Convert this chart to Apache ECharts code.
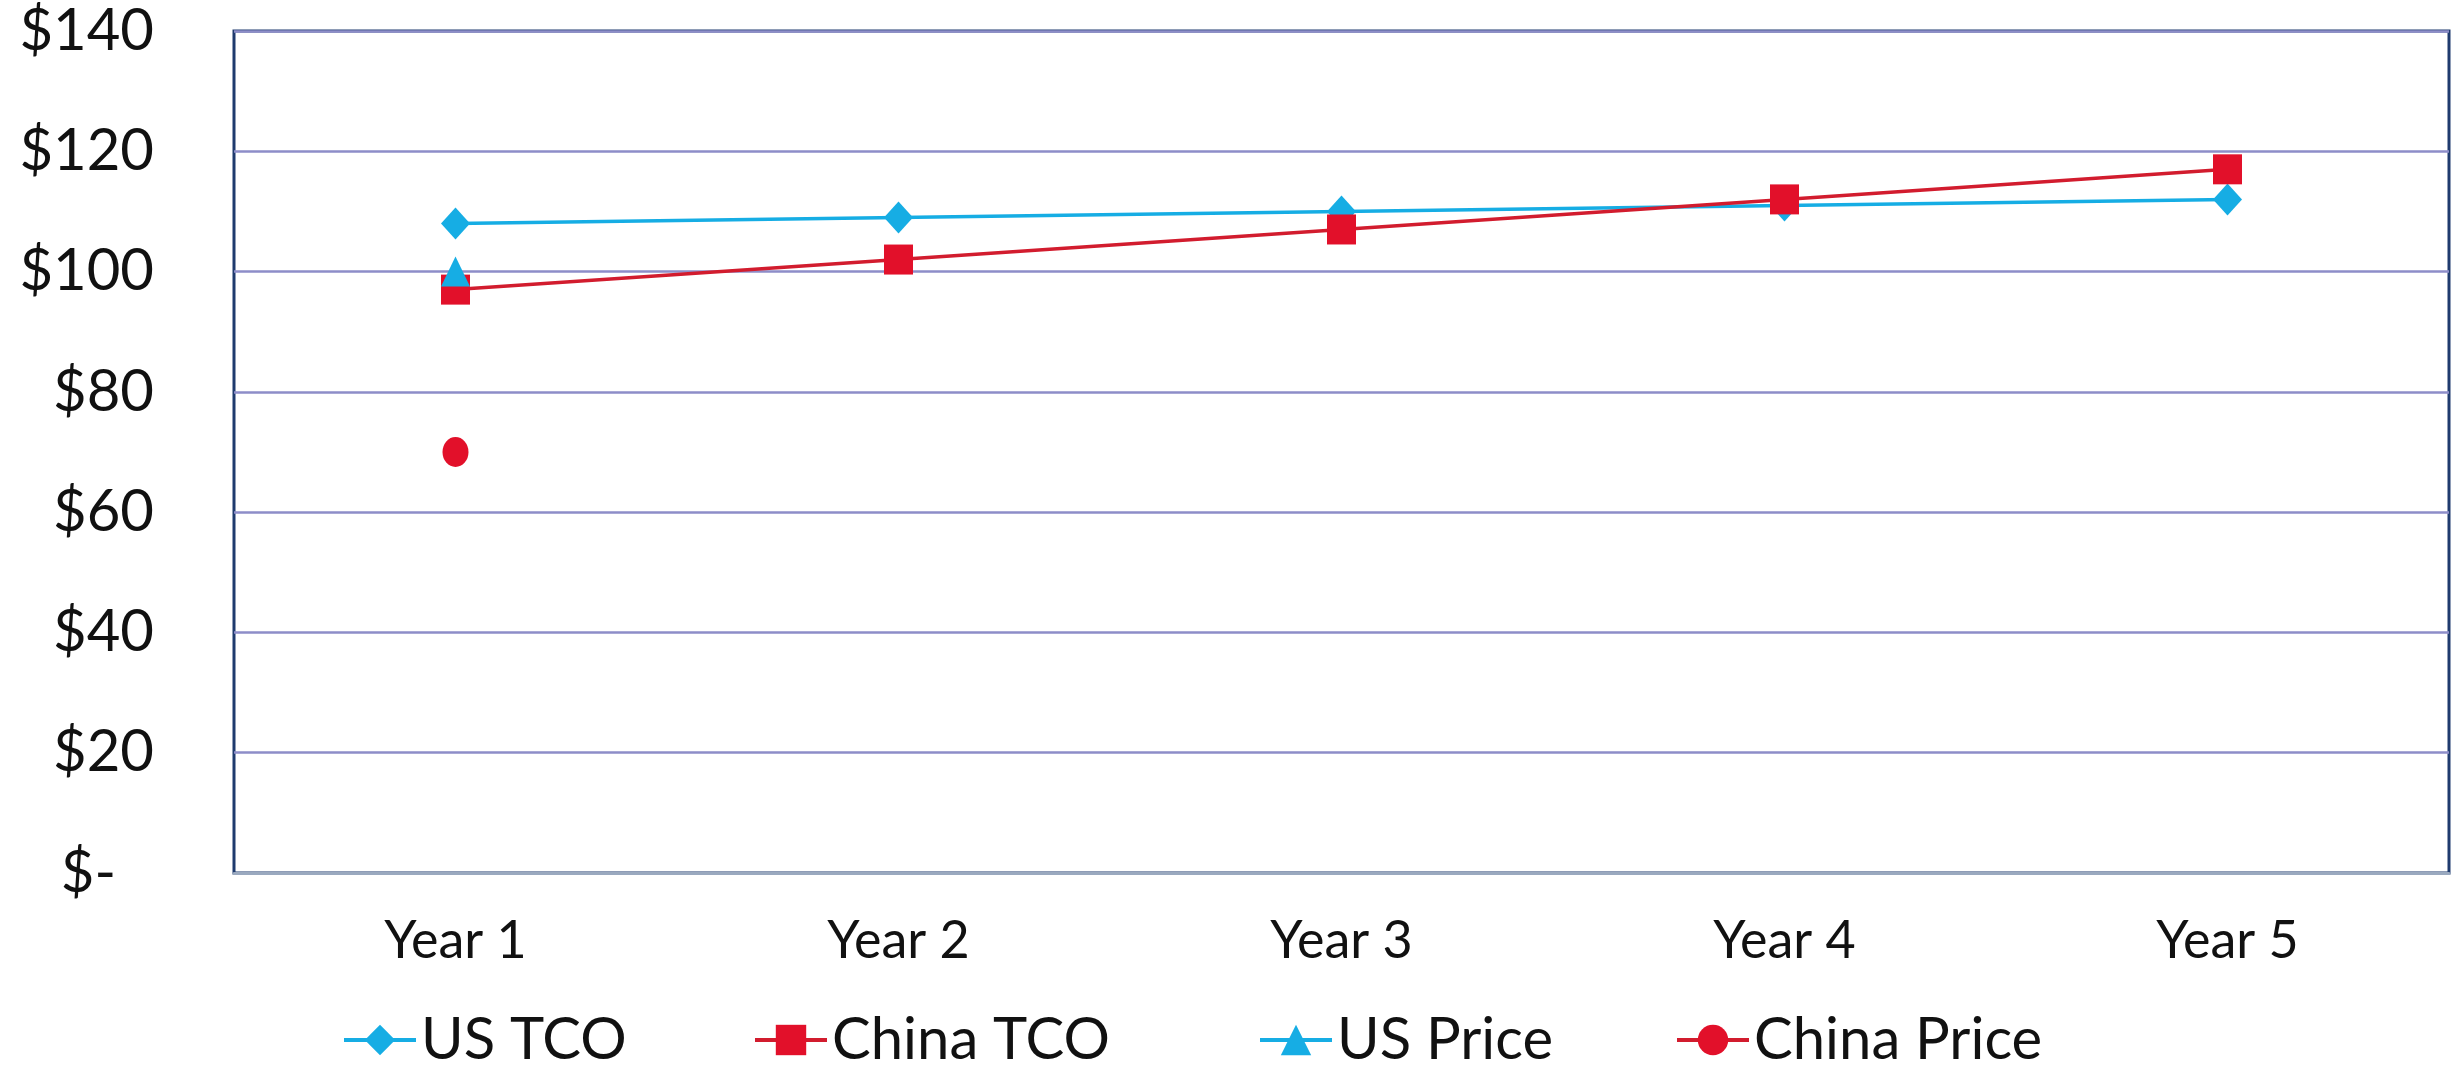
<!DOCTYPE html>
<html>
<head>
<meta charset="utf-8">
<title>TCO vs Price</title>
<script src="https://cdn.jsdelivr.net/npm/echarts@6/dist/echarts.min.js"></script>
<style>
  html, body { margin: 0; padding: 0; background: #ffffff; }
  #chart { width: 2455px; height: 1070px; }
</style>
</head>
<body>
<div id="chart"></div>
<script>
// Categories and series values
const years = ['Year 1', 'Year 2', 'Year 3', 'Year 4', 'Year 5'];
const usTco = [108, 109, 110, 111, 112];
const chinaTco = [97, 102, 107, 112, 117];
const usPrice = [100, null, null, null, null];
const chinaPrice = [70, null, null, null, null];
const seriesNames = ['US TCO', 'China TCO', 'US Price', 'China Price'];

const CYAN = '#16ade4';
const RED = '#e2102a';
const RED_LINE = '#d21c2e';
const FONT = 'Lato';

const chart = echarts.init(document.getElementById('chart'));

// Accounting-style dollar labels: zero shows as "$-"
function fmtDollar(v) {
  return v === 0 ? '{z|$-}' : '{n|$' + v + '}';
}

const legendLefts = [337, 748, 1253, 1670];

chart.setOption({
  backgroundColor: '#ffffff',
  animation: false,
  grid: {
    left: 234, right: 6, top: 31, bottom: 197,
    show: true,
    borderColor: '#1f3b6e',
    borderWidth: 3,
    backgroundColor: '#ffffff'
  },
  legend: seriesNames.map((name, i) => ({
    data: [name],
    left: legendLefts[i],
    top: 1006,
    itemWidth: 72,
    itemHeight: 38,
    itemGap: 0,
    lineStyle: { width: 4 },
    textStyle: { fontFamily: FONT, fontSize: 58, color: '#111111', padding: [0, 0, 0, 0] }
  })),
  xAxis: {
    type: 'category',
    data: years,
    boundaryGap: true,
    axisLine: { show: true, lineStyle: { color: '#9aa9bf', width: 3 } },
    axisTick: { show: false },
    axisLabel: { fontFamily: FONT, fontSize: 52, color: '#111111', margin: 42 },
    splitLine: { show: false }
  },
  yAxis: {
    type: 'value',
    min: 0, max: 140, interval: 20,
    axisLine: { show: false },
    axisTick: { show: false },
    axisLabel: {
      margin: 80,
      formatter: fmtDollar,
      rich: {
        n: { fontFamily: FONT, fontSize: 58, color: '#111111' },
        z: { fontFamily: FONT, fontSize: 58, color: '#111111', padding: [0, 38, 0, 0] }
      }
    },
    splitLine: { show: true, lineStyle: { color: '#8d8dc8', width: 2.5 } }
  },
  series: [
    {
      name: 'US TCO', type: 'line', data: usTco,
      symbol: 'diamond', symbolSize: [29, 32],
      lineStyle: { color: CYAN, width: 3.5 },
      itemStyle: { color: CYAN }
    },
    {
      name: 'China TCO', type: 'line', data: chinaTco,
      symbol: 'rect', symbolSize: [29, 30],
      lineStyle: { color: RED_LINE, width: 3.5 },
      itemStyle: { color: RED }
    },
    {
      name: 'US Price', type: 'line', data: usPrice,
      symbol: 'triangle', symbolSize: [29, 30],
      lineStyle: { color: CYAN, width: 3.5 },
      itemStyle: { color: CYAN }
    },
    {
      name: 'China Price', type: 'line', data: chinaPrice,
      symbol: 'circle', symbolSize: [26, 30],
      lineStyle: { color: RED_LINE, width: 3.5 },
      itemStyle: { color: RED }
    }
  ]
});
</script>
</body>
</html>
